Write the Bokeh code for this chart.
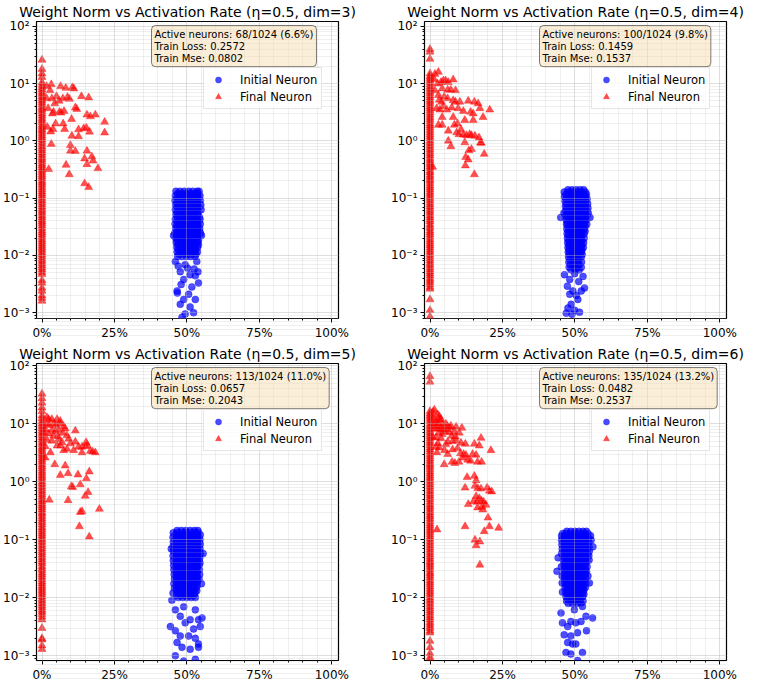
from bokeh.plotting import figure
from bokeh.layouts import gridplot
from bokeh.models import (Range1d, FixedTicker, CustomJSTickFormatter, Label,
                          Legend, LegendItem, ColumnDataSource)
from bokeh.embed import file_html
from bokeh.resources import INLINE

FONT = "DejaVu Sans"

# ---------------- chart values ----------------
DIMS = [3, 4, 5, 6]
ETA = 0.5
TOTAL_NEURONS = 1024
ACTIVE_NEURONS = [68, 100, 113, 135]
ACTIVE_PCT = [6.6, 9.8, 11.0, 13.2]
TRAIN_LOSS = [0.2572, 0.1459, 0.0657, 0.0482]
TRAIN_MSE = [0.0802, 0.1537, 0.2043, 0.2537]

X_TICKS = [0, 25, 50, 75, 100]
X_MINOR = [5, 10, 15, 20, 30, 35, 40, 45, 55, 60, 65, 70, 80, 85, 90, 95]
Y_TICKS = [1e-3, 1e-2, 1e-1, 1e0, 1e1, 1e2]
Y_MINOR = [m * 10.0 ** e for e in range(-4, 2) for m in range(2, 10)]

# activation rate (%) of the dead / near-dead final neurons (column at 0%)
FINAL_COLUMN_RATE = 0.0

# ---- dim=3 ----  initial neurons: (weight norm, [activation rates %])
INIT_ROWS_DIM3 = [
    (0.132, [46.2, 47.6, 49.1, 50.6, 52.0, 53.5, 54.2]),
    (0.121, [46.8, 48.3, 49.8, 51.3, 52.8, 54.0]),
    (0.110, [46.0, 47.5, 49.0, 50.5, 52.0, 53.5, 54.5]),
    (0.100, [46.6, 48.1, 49.6, 51.1, 52.6, 54.1]),
    (0.091, [45.9, 47.4, 48.9, 50.4, 51.9, 53.4, 54.6]),
    (0.083, [46.5, 48.0, 49.5, 51.0, 52.5, 54.0]),
    (0.076, [46.1, 47.6, 49.1, 50.6, 52.1, 53.6, 54.8]),
    (0.069, [46.7, 48.2, 49.7, 51.2, 52.7, 54.2]),
    (0.063, [46.0, 47.5, 49.0, 50.5, 52.0, 53.5, 54.9]),
    (0.057, [46.6, 48.1, 49.6, 51.1, 52.6, 54.0]),
    (0.052, [46.2, 47.7, 49.2, 50.7, 52.2, 53.7]),
    (0.047, [46.8, 48.3, 49.8, 51.3, 52.8, 54.3]),
    (0.043, [46.0, 47.5, 49.0, 50.5, 52.0, 53.5, 54.5]),
    (0.039, [46.6, 48.1, 49.6, 51.1, 52.6, 54.1]),
    (0.0355, [45.9, 47.4, 48.9, 50.4, 51.9, 53.4, 54.6]),
    (0.0323, [46.5, 48.0, 49.5, 51.0, 52.5, 54.0]),
    (0.0295, [46.1, 47.6, 49.1, 50.6, 52.1, 53.6, 54.4]),
    (0.0268, [46.7, 48.2, 49.7, 51.2, 52.7, 54.2]),
    (0.0245, [45.8, 47.3, 48.8, 50.3, 51.8, 53.3, 54.7]),
    (0.0222, [45.4, 46.5, 48.0, 49.5, 51.0, 52.5, 54.0, 55.0]),
    (0.0202, [46.1, 47.6, 49.1, 50.6, 52.1, 53.6]),
    (0.0184, [46.7, 48.2, 49.7, 51.2, 52.7, 54.0]),
    (0.0168, [46.3, 47.8, 49.3, 50.8, 52.3, 53.8]),
    (0.0153, [46.9, 48.4, 49.9, 51.4, 52.9, 54.0]),
    (0.0139, [46.5, 48.0, 49.5, 51.0, 52.5, 53.7]),
    (0.0127, [47.0, 48.5, 50.0, 51.5, 53.0]),
    (0.0115, [46.6, 48.1, 49.6, 51.1, 52.6, 53.6]),
    (0.0105, [47.2, 48.7, 50.2, 51.7, 53.1]),
    (0.0096, [46.8, 48.3, 49.8, 51.3, 52.8]),
]
INIT_TAIL_DIM3 = [
    (46.0, 0.0078), (49.4, 0.0069), (53.4, 0.0078), (47.7, 0.0052), (51.1, 0.0046),
    (48.9, 0.0038), (52.9, 0.0044), (48.0, 0.0031), (51.7, 0.0028), (54.0, 0.0033),
    (46.7, 0.0022), (50.6, 0.0021), (52.9, 0.0017), (48.9, 0.0017), (47.7, 0.0014),
    (51.1, 0.00126), (49.4, 0.00095), (48.3, 0.00083), (52.3, 0.0010), (46.6, 0.0024),
    (50.2, 0.0060), (52.5, 0.0058), (47.0, 0.0065), (53.8, 0.0052),
]
FINAL_COLUMN_DIM3 = [
    26, 18, 15, 13, 10.5, 9.5, 8.6, 7.9, 7.2, 6.6, 6.0, 5.5, 5.1, 4.7, 4.3, 3.9, 3.6,
    3.3, 3.0, 2.75, 2.5, 2.3, 2.1, 1.9, 1.75, 1.6, 1.5, 1.37, 1.25, 1.15, 1.05, 0.96,
    0.88, 0.8, 0.74, 0.68, 0.62, 0.57, 0.52, 0.48, 0.44, 0.4, 0.37, 0.34, 0.31, 0.285,
    0.26, 0.24, 0.22, 0.2, 0.185, 0.17, 0.155, 0.142, 0.13, 0.12, 0.11, 0.1, 0.092,
    0.085, 0.078, 0.071, 0.065, 0.06, 0.055, 0.05, 0.046, 0.042, 0.039, 0.036, 0.033,
    0.03, 0.027, 0.025, 0.023, 0.021, 0.019, 0.0175, 0.016, 0.0147, 0.0135, 0.0124,
    0.0113, 0.0104, 0.0095, 0.0087, 0.008, 0.0073, 0.0067, 0.0061, 0.0056, 0.0051,
    0.0047, 0.0037, 0.0033, 0.0027, 0.0024, 0.002, 0.0018, 0.0016,
]
FINAL_SPREAD_DIM3 = [
    (1.6, 9.0), (3.2, 9.7), (2.8, 7.6), (6.4, 9.0), (8.2, 8.4), (10.5, 8.6), (11.0, 8.2),
    (5.0, 6.0), (1.6, 5.5), (3.4, 5.5), (7.2, 5.5), (8.8, 5.8), (9.5, 5.4), (13.6, 6.0),
    (16.1, 5.7), (5.9, 5.0), (4.4, 4.5), (2.1, 3.7), (3.6, 3.0), (4.0, 3.2), (6.0, 3.2),
    (6.6, 3.1), (7.6, 3.3), (11.5, 3.8), (12.0, 3.6), (10.2, 2.4), (4.7, 2.0), (7.3, 2.0),
    (1.8, 1.75), (3.0, 1.45), (3.8, 1.6), (7.8, 1.6), (12.6, 1.58), (14.4, 1.65),
    (15.3, 1.69), (16.4, 1.44), (10.3, 1.22), (12.6, 1.2), (3.2, 0.88), (9.8, 0.84),
    (9.8, 0.67), (11.5, 0.66), (2.3, 0.32), (8.3, 0.38), (9.4, 0.26), (14.7, 0.18),
    (16.1, 0.155), (15.5, 2.86), (16.7, 2.67), (18.4, 2.86), (21.6, 2.14), (21.6, 1.39),
    (15.5, 0.67), (14.7, 0.49), (15.5, 0.39), (17.2, 0.53), (17.6, 0.45), (19.3, 0.33),
]

# ---- dim=4 ----
INIT_ROWS_DIM4 = [
    (0.140, [47.6, 49.0, 50.4, 51.8, 53.0]),
    (0.128, [46.3, 47.7, 49.2, 50.7, 52.2, 53.6]),
    (0.117, [46.9, 48.4, 49.9, 51.4, 52.9, 54.0]),
    (0.106, [46.4, 47.9, 49.4, 50.9, 52.4, 53.8]),
    (0.097, [47.0, 48.5, 50.0, 51.5, 53.0, 54.2]),
    (0.088, [46.6, 48.1, 49.6, 51.1, 52.6, 53.9]),
    (0.080, [47.1, 48.6, 50.1, 51.6, 53.1, 54.4]),
    (0.073, [46.7, 48.2, 49.7, 51.2, 52.7, 54.0]),
    (0.067, [47.2, 48.7, 50.2, 51.7, 53.2, 54.5]),
    (0.061, [46.8, 48.3, 49.8, 51.3, 52.8, 54.1]),
    (0.055, [46.2, 47.4, 48.9, 50.4, 51.9, 53.4, 54.6]),
    (0.050, [46.9, 48.4, 49.9, 51.4, 52.9, 54.2]),
    (0.046, [45.1, 47.5, 49.0, 50.5, 52.0, 53.5, 55.2]),
    (0.042, [47.0, 48.5, 50.0, 51.5, 53.0, 54.0]),
    (0.038, [47.4, 48.9, 50.4, 51.9, 53.4]),
    (0.035, [47.1, 48.6, 50.1, 51.6, 53.1, 54.1]),
    (0.032, [47.6, 49.1, 50.6, 52.1, 53.5]),
    (0.029, [47.2, 48.7, 50.2, 51.7, 53.2]),
    (0.0265, [47.7, 49.2, 50.7, 52.2, 53.5]),
    (0.024, [47.3, 48.8, 50.3, 51.8, 53.2]),
    (0.022, [47.8, 49.3, 50.8, 52.3]),
    (0.020, [47.4, 48.9, 50.4, 51.9, 53.2]),
    (0.0182, [47.9, 49.4, 50.9, 52.4]),
    (0.0166, [47.5, 49.0, 50.5, 52.0, 53.0]),
    (0.0151, [47.9, 49.4, 50.9, 52.4]),
    (0.0137, [47.6, 49.1, 50.6, 52.1, 52.9]),
    (0.0125, [48.0, 49.5, 51.0, 52.4]),
    (0.0114, [47.7, 49.2, 50.7, 52.2]),
    (0.0104, [48.1, 49.6, 51.1, 52.5]),
    (0.0094, [47.8, 49.3, 50.8, 52.2]),
    (0.0085, [48.3, 49.8, 51.3]),
    (0.0077, [47.9, 49.4, 50.9, 52.3]),
    (0.0069, [48.4, 49.9, 51.4]),
    (0.0062, [48.0, 49.5, 51.0, 52.2]),
    (0.0056, [48.6, 50.1, 51.5]),
]
INIT_TAIL_DIM4 = [
    (47.4, 0.0029), (49.3, 0.0024), (48.2, 0.0021), (50.5, 0.0020), (52.2, 0.0024),
    (53.3, 0.0027), (48.7, 0.0014), (51.0, 0.0017), (47.6, 0.0012), (49.9, 0.0011),
    (51.6, 0.00102), (47.0, 0.00098), (49.0, 0.00094), (48.2, 0.0038), (51.3, 0.0035),
    (52.8, 0.0043), (46.4, 0.0046), (49.9, 0.0048),
]
FINAL_COLUMN_DIM4 = [
    40, 36, 27, 15, 13.5, 12.5, 11.5, 10.5, 9.6, 8.8, 8.1, 7.4, 6.8, 6.2, 5.7, 5.2, 4.8,
    4.4, 4.0, 3.7, 3.4, 3.1, 2.85, 2.6, 2.4, 2.2, 2.0, 1.85, 1.7, 1.55, 1.42, 1.3, 1.2,
    1.1, 1.0, 0.92, 0.84, 0.77, 0.71, 0.65, 0.6, 0.55, 0.5, 0.46, 0.42, 0.39, 0.36, 0.33,
    0.3, 0.28, 0.255, 0.235, 0.215, 0.2, 0.182, 0.165, 0.152, 0.14, 0.128, 0.118, 0.108,
    0.1, 0.092, 0.084, 0.077, 0.071, 0.065, 0.06, 0.055, 0.05, 0.046, 0.042, 0.039,
    0.035, 0.032, 0.03, 0.027, 0.025, 0.023, 0.021, 0.019, 0.0175, 0.016, 0.0148,
    0.0136, 0.0125, 0.0115, 0.0105, 0.0096, 0.0088, 0.0081, 0.0074, 0.0068, 0.0062,
    0.0057, 0.0052, 0.0048, 0.0044, 0.004, 0.0037, 0.0034, 0.0031, 0.0028, 0.0026,
    0.0017, 0.0011, 0.00085,
]
FINAL_SPREAD_DIM4 = [
    (1.7, 14.7), (2.9, 16.0), (1.4, 12.0), (2.6, 10.0), (3.8, 10.6), (4.6, 11.3),
    (5.4, 11.3), (6.3, 10.6), (8.0, 11.8), (4.2, 8.2), (6.1, 7.8), (7.2, 7.8), (8.8, 7.6),
    (1.7, 7.6), (2.9, 6.3), (4.9, 5.9), (6.1, 5.5), (3.2, 5.2), (4.0, 4.8), (8.0, 5.1),
    (8.8, 4.8), (10.3, 4.8), (13.2, 5.0), (15.3, 4.8), (16.6, 4.5), (2.3, 3.7), (4.6, 4.0),
    (7.5, 3.8), (3.4, 3.5), (5.8, 3.5), (9.7, 3.7), (11.5, 3.3), (14.0, 3.2), (14.9, 3.0),
    (17.2, 3.7), (20.6, 3.5), (4.2, 2.6), (8.0, 2.6), (12.0, 2.3), (14.9, 2.3), (18.3, 2.6),
    (2.9, 1.9), (4.2, 1.9), (6.3, 1.5), (8.4, 1.9), (9.5, 2.0), (10.7, 1.58), (9.2, 1.4),
    (10.0, 1.3), (11.5, 1.28), (12.6, 1.25), (13.7, 1.3), (14.3, 1.25), (15.5, 1.22),
    (16.9, 1.14), (6.3, 1.0), (7.2, 0.8), (12.0, 0.94), (14.3, 0.72), (13.4, 0.68),
    (17.4, 0.93), (17.7, 0.92), (12.3, 0.52), (13.2, 0.47), (12.2, 0.37), (18.7, 0.59),
    (15.3, 0.26), (0.9, 0.35),
]

# ---- dim=5 ----
INIT_ROWS_DIM5 = [
    (0.145, [46.6, 48.1, 49.6, 51.1, 52.6, 53.8]),
    (0.133, [45.3, 46.6, 48.1, 49.6, 51.1, 52.6, 54.0]),
    (0.122, [45.9, 47.4, 48.9, 50.4, 51.9, 53.4, 54.6]),
    (0.111, [45.2, 46.7, 48.2, 49.7, 51.2, 52.7, 54.1]),
    (0.101, [45.8, 47.3, 48.8, 50.3, 51.8, 53.3, 54.5]),
    (0.092, [45.3, 46.8, 48.3, 49.8, 51.3, 52.8, 54.2]),
    (0.084, [45.9, 47.4, 48.9, 50.4, 51.9, 53.4, 54.6]),
    (0.077, [45.2, 46.7, 48.2, 49.7, 51.2, 52.7, 54.1]),
    (0.070, [44.6, 45.8, 47.3, 48.8, 50.3, 51.8, 53.3, 54.5]),
    (0.064, [45.3, 46.8, 48.3, 49.8, 51.3, 52.8, 54.2]),
    (0.058, [45.9, 47.4, 48.9, 50.4, 51.9, 53.4, 54.6, 55.6]),
    (0.053, [45.2, 46.7, 48.2, 49.7, 51.2, 52.7, 54.1]),
    (0.048, [45.8, 47.3, 48.8, 50.3, 51.8, 53.3, 54.4]),
    (0.044, [45.3, 46.8, 48.3, 49.8, 51.3, 52.8, 54.1]),
    (0.040, [45.9, 47.4, 48.9, 50.4, 51.9, 53.4, 54.5]),
    (0.0365, [45.4, 46.9, 48.4, 49.9, 51.4, 52.9, 54.2]),
    (0.0333, [46.0, 47.5, 49.0, 50.5, 52.0, 53.5]),
    (0.0304, [45.5, 47.0, 48.5, 50.0, 51.5, 53.0, 54.3]),
    (0.0277, [46.1, 47.6, 49.1, 50.6, 52.1, 53.6]),
    (0.0253, [45.6, 47.1, 48.6, 50.1, 51.6, 53.1, 54.4]),
    (0.0231, [46.2, 47.7, 49.2, 50.7, 52.2, 53.6]),
    (0.0211, [45.7, 47.2, 48.7, 50.2, 51.7, 53.2, 54.2]),
    (0.0192, [46.3, 47.8, 49.3, 50.8, 52.3, 53.7]),
    (0.0175, [45.5, 47.0, 48.5, 50.0, 51.5, 53.0, 55.0]),
    (0.0160, [46.2, 47.7, 49.2, 50.7, 52.2, 53.5]),
    (0.0146, [45.7, 47.2, 48.7, 50.2, 51.7, 53.1]),
    (0.0133, [46.3, 47.8, 49.3, 50.8, 52.3, 53.4]),
    (0.0121, [45.2, 46.9, 48.4, 49.9, 51.4, 52.8]),
    (0.0110, [46.5, 48.0, 49.5, 51.0, 52.4]),
    (0.0101, [47.0, 48.5, 50.0, 51.5, 52.9]),
]
INIT_TAIL_DIM5 = [
    (44.8, 0.0091), (46.0, 0.0062), (47.7, 0.0048), (51.1, 0.0042), (54.0, 0.0042),
    (54.6, 0.0032), (46.0, 0.0027), (47.7, 0.0022), (50.6, 0.0022), (52.9, 0.0020),
    (54.0, 0.0016), (46.6, 0.0017), (48.3, 0.0014), (51.1, 0.0013), (46.0, 0.0010),
    (48.9, 0.00081), (52.9, 0.00087), (54.0, 0.0014), (44.3, 0.0032), (55.2, 0.0045),
    (49.4, 0.0037), (52.3, 0.0029), (48.9, 0.0070), (52.9, 0.0062),
]
FINAL_COLUMN_DIM5 = [
    33, 27.6, 23, 19, 16.5, 13.9, 12.4, 11, 10.1, 9.2, 8.4, 7.6, 7.0, 6.4, 5.8, 5.3, 4.8,
    4.4, 4.0, 3.7, 3.4, 3.1, 2.85, 2.6, 2.4, 2.2, 2.0, 1.85, 1.7, 1.55, 1.42, 1.3, 1.2,
    1.1, 1.0, 0.92, 0.84, 0.77, 0.71, 0.65, 0.6, 0.55, 0.5, 0.46, 0.42, 0.39, 0.36, 0.33,
    0.3, 0.28, 0.255, 0.235, 0.215, 0.2, 0.182, 0.165, 0.152, 0.14, 0.128, 0.118, 0.108,
    0.1, 0.092, 0.084, 0.077, 0.071, 0.065, 0.06, 0.055, 0.05, 0.046, 0.042, 0.039,
    0.035, 0.032, 0.03, 0.027, 0.025, 0.023, 0.021, 0.019, 0.0175, 0.016, 0.0148,
    0.0136, 0.0125, 0.0115, 0.0105, 0.0096, 0.0088, 0.0081, 0.0074, 0.0068, 0.0062,
    0.0057, 0.0052, 0.0047, 0.0042, 0.003, 0.002, 0.0019, 0.0015, 0.0013,
]
FINAL_SPREAD_DIM5 = [
    (1.7, 13.0), (2.3, 12.0), (3.4, 12.0), (5.2, 12.0), (6.3, 11.2), (1.7, 9.8), (2.5, 9.5),
    (4.0, 10.0), (4.8, 9.6), (6.3, 10.0), (7.5, 8.9), (1.1, 8.0), (3.4, 7.8), (4.6, 7.5),
    (5.7, 7.8), (8.0, 8.3), (7.2, 7.0), (2.3, 6.8), (0.6, 7.2), (4.0, 6.3), (5.5, 6.1),
    (8.6, 6.3), (11.5, 7.6), (9.2, 5.5), (1.7, 5.3), (3.4, 5.1), (5.7, 5.4), (6.9, 4.8),
    (9.8, 4.6), (11.5, 4.9), (15.2, 4.8), (12.6, 4.0), (13.8, 4.0), (15.0, 4.1), (15.6, 4.3),
    (16.7, 3.4), (17.5, 3.3), (18.4, 3.2), (13.8, 3.2), (10.9, 3.5), (8.6, 3.7), (5.2, 4.2),
    (6.3, 4.2), (7.5, 3.5), (2.9, 3.2), (1.1, 4.1), (1.1, 2.6), (4.4, 2.0), (8.0, 1.9),
    (9.0, 1.4), (12.4, 1.33), (16.3, 1.5), (6.3, 1.3), (15.3, 1.14), (13.2, 0.9),
    (10.1, 0.83), (10.6, 0.81), (15.9, 0.66), (14.9, 0.57), (2.5, 0.49), (9.0, 0.48),
    (13.2, 0.30), (13.8, 0.31), (19.8, 0.34), (12.9, 0.17), (16.3, 0.113),
]

# ---- dim=6 ----
INIT_ROWS_DIM6 = [
    (0.140, [47.2, 48.6, 50.0, 51.4, 52.8, 54.0]),
    (0.129, [45.8, 47.0, 48.5, 50.0, 51.5, 53.0, 54.5]),
    (0.118, [45.4, 46.4, 47.9, 49.4, 50.9, 52.4, 53.9, 55.4]),
    (0.108, [45.9, 47.3, 48.8, 50.3, 51.8, 53.3, 54.6]),
    (0.099, [45.4, 46.6, 48.1, 49.6, 51.1, 52.6, 54.1, 55.6]),
    (0.091, [46.0, 47.4, 48.9, 50.4, 51.9, 53.4, 54.8]),
    (0.083, [45.5, 46.7, 48.2, 49.7, 51.2, 52.7, 54.2]),
    (0.076, [46.1, 47.5, 49.0, 50.5, 52.0, 53.5, 54.9, 56.2]),
    (0.070, [45.6, 46.8, 48.3, 49.8, 51.3, 52.8, 54.3]),
    (0.064, [46.2, 47.6, 49.1, 50.6, 52.1, 53.6, 55.0]),
    (0.058, [45.4, 46.9, 48.4, 49.9, 51.4, 52.9, 54.4]),
    (0.053, [45.9, 47.4, 48.9, 50.4, 51.9, 53.4, 54.8]),
    (0.049, [44.2, 46.5, 48.0, 49.5, 51.0, 52.5, 54.0]),
    (0.045, [46.0, 47.5, 49.0, 50.5, 52.0, 53.5, 54.9]),
    (0.041, [46.6, 48.1, 49.6, 51.1, 52.6, 54.1]),
    (0.0375, [46.1, 47.6, 49.1, 50.6, 52.1, 53.6]),
    (0.0343, [45.3, 46.7, 48.2, 49.7, 51.2, 52.7, 54.2]),
    (0.0313, [46.2, 47.7, 49.2, 50.7, 52.2, 53.7]),
    (0.0286, [43.8, 46.8, 48.3, 49.8, 51.3, 52.8, 54.0]),
    (0.0261, [46.3, 47.8, 49.3, 50.8, 52.3, 53.8]),
    (0.0238, [45.6, 46.9, 48.4, 49.9, 51.4, 52.9, 54.5]),
    (0.0217, [46.4, 47.9, 49.4, 50.9, 52.4, 53.8]),
    (0.0198, [47.0, 48.5, 50.0, 51.5, 53.0]),
    (0.0181, [45.6, 46.5, 48.0, 49.5, 51.0, 52.5, 53.9, 55.0]),
    (0.0165, [47.1, 48.6, 50.1, 51.6, 53.0]),
    (0.0151, [46.6, 48.1, 49.6, 51.1, 52.6, 53.6]),
    (0.0138, [47.2, 48.7, 50.2, 51.7, 53.1]),
    (0.0126, [45.7, 46.8, 48.3, 49.8, 51.3, 52.8]),
    (0.0115, [47.3, 48.8, 50.3, 51.8, 53.1]),
    (0.0105, [46.9, 48.4, 49.9, 51.4, 52.7]),
    (0.0096, [47.5, 49.0, 50.5, 52.0]),
    (0.0088, [47.1, 48.6, 50.1, 51.6, 52.8]),
    (0.0080, [47.7, 49.2, 50.7, 52.1]),
]
INIT_TAIL_DIM6 = [
    (45.7, 0.0037), (47.5, 0.0032), (48.6, 0.0039), (50.3, 0.0037), (52.1, 0.0039),
    (53.8, 0.0048), (46.3, 0.0023), (48.6, 0.0022), (50.9, 0.0025), (47.5, 0.0017),
    (49.2, 0.0016), (46.9, 0.00114), (48.6, 0.00107), (50.3, 0.0016), (50.9, 0.00083),
    (52.6, 0.00114), (54.0, 0.0027), (56.1, 0.0045), (45.2, 0.0055), (49.8, 0.0062),
    (52.6, 0.0071),
]
FINAL_COLUMN_DIM6 = [
    66, 53, 16.5, 15, 14, 13, 12, 11, 10, 9.2, 8.5, 7.8, 7.2, 6.6, 6.1, 5.6, 5.1, 4.7,
    4.3, 3.9, 3.6, 3.3, 3.0, 2.75, 2.5, 2.3, 2.1, 1.95, 1.8, 1.65, 1.5, 1.38, 1.27, 1.17,
    1.07, 0.98, 0.9, 0.83, 0.76, 0.7, 0.64, 0.59, 0.54, 0.5, 0.45, 0.41, 0.38, 0.35,
    0.32, 0.295, 0.27, 0.25, 0.23, 0.21, 0.19, 0.175, 0.16, 0.147, 0.135, 0.124, 0.113,
    0.104, 0.095, 0.087, 0.08, 0.073, 0.067, 0.061, 0.056, 0.051, 0.047, 0.043, 0.04,
    0.037, 0.034, 0.031, 0.028, 0.026, 0.024, 0.022, 0.02, 0.0185, 0.017, 0.0155,
    0.0142, 0.013, 0.012, 0.011, 0.01, 0.0092, 0.0085, 0.0078, 0.0071, 0.0065, 0.006,
    0.0055, 0.005, 0.0046, 0.0042, 0.0038, 0.0035, 0.0032, 0.003, 0.0027, 0.0025,
    0.0018, 0.0014, 0.0011, 0.00095, 0.00085,
]
FINAL_SPREAD_DIM6 = [
    (1.5, 17.5), (1.0, 16.0), (2.6, 14.5), (3.2, 13.5), (3.8, 12.0), (3.2, 11.8), (1.5, 10.0),
    (2.9, 10.2), (4.4, 9.8), (5.5, 10.0), (6.1, 9.0), (7.2, 9.2), (9.0, 8.9), (1.5, 8.3),
    (2.6, 8.2), (4.0, 8.3), (5.2, 7.3), (6.7, 7.1), (8.4, 7.4), (10.1, 7.0), (11.0, 8.5),
    (0.9, 5.9), (2.1, 5.8), (3.8, 5.6), (6.1, 4.9), (7.8, 5.0), (9.0, 5.2), (10.7, 4.7),
    (12.2, 4.5), (15.3, 4.5), (17.0, 4.2), (17.6, 5.7), (2.1, 4.0), (3.2, 3.9), (5.0, 3.5),
    (6.1, 3.0), (7.8, 3.6), (2.4, 3.2), (4.9, 2.0), (7.6, 2.2), (8.6, 2.1), (10.0, 2.2),
    (11.6, 3.0), (12.4, 2.9), (13.0, 2.4), (14.0, 2.3), (14.7, 3.0), (15.9, 2.9),
    (16.4, 2.2), (17.8, 2.2), (21.0, 3.5), (12.8, 1.2), (15.3, 1.26), (15.9, 1.06),
    (12.1, 0.79), (13.2, 0.41), (15.5, 0.85), (16.5, 0.77), (17.6, 0.76), (15.9, 0.56),
    (17.0, 0.52), (15.0, 0.46), (16.2, 0.45), (17.8, 0.47), (18.5, 0.45), (19.3, 0.40),
    (19.7, 0.79), (20.5, 0.70), (21.3, 0.68), (16.4, 0.36), (18.0, 0.37), (18.2, 0.33),
    (20.0, 0.24), (20.5, 0.17), (18.7, 0.14), (23.7, 0.16), (12.1, 0.17), (15.5, 0.10),
    (15.9, 0.08), (17.2, 0.093), (2.4, 0.15), (17.2, 0.037), (1.2, 12.5), (2.0, 11.0),
    (2.3, 9.0), (3.5, 8.8), (4.6, 7.8), (5.8, 8.0), (6.9, 8.6), (7.5, 6.2), (8.8, 6.0),
    (3.0, 7.0), (4.2, 6.6), (2.7, 4.6), (5.5, 4.4), (9.5, 3.8), (10.5, 3.1), (11.3, 2.6),
]

INIT_ROWS = [INIT_ROWS_DIM3, INIT_ROWS_DIM4, INIT_ROWS_DIM5, INIT_ROWS_DIM6]
INIT_TAILS = [INIT_TAIL_DIM3, INIT_TAIL_DIM4, INIT_TAIL_DIM5, INIT_TAIL_DIM6]
FINAL_COLUMNS = [FINAL_COLUMN_DIM3, FINAL_COLUMN_DIM4, FINAL_COLUMN_DIM5, FINAL_COLUMN_DIM6]
FINAL_SPREADS = [FINAL_SPREAD_DIM3, FINAL_SPREAD_DIM4, FINAL_SPREAD_DIM5, FINAL_SPREAD_DIM6]

# ---------------- layout / style ----------------
FRAME_W, FRAME_H = 302, 297
BORDERS = [(33, 42), (44, 26), (33, 42), (44, 26)]
Y_LIMITS = [(7.9e-4, 122), (7.9e-4, 122), (8.3e-4, 110), (8.3e-4, 110)]
X_LIMITS = (-1.9, 102.3)

SUP_JS = """
const sup = {"-": "\u207b", "0": "\u2070", "1": "\u00b9", "2": "\u00b2", "3": "\u00b3",
             "4": "\u2074", "5": "\u2075", "6": "\u2076", "7": "\u2077", "8": "\u2078", "9": "\u2079"};
const e = Math.round(Math.log10(tick));
return "10" + String(e).split("").map(c => sup[c]).join("");
"""


def expand_rows(rows):
    xs, ys = [], []
    for yv, row in rows:
        for xv in row:
            xs.append(xv)
            ys.append(yv)
    return xs, ys


def make_panel(i):
    left, right = BORDERS[i]
    ylo, yhi = Y_LIMITS[i]
    p = figure(frame_width=FRAME_W, frame_height=FRAME_H,
               x_range=Range1d(*X_LIMITS), y_range=Range1d(ylo, yhi),
               y_axis_type="log", output_backend="svg", toolbar_location=None,
               min_border_left=left, min_border_right=right,
               min_border_top=0, min_border_bottom=0,
               title=f"Weight Norm vs Activation Rate (\u03b7={ETA}, dim={DIMS[i]})")
    p.title.text_font = FONT
    p.title.text_font_size = "14px"
    p.title.text_font_style = "normal"
    p.title.text_color = "black"
    p.title.align = "center"
    p.title.standoff = 3
    p.outline_line_color = "black"
    p.outline_line_width = 1.2

    xt = FixedTicker(ticks=X_TICKS, minor_ticks=X_MINOR)
    yt = FixedTicker(ticks=Y_TICKS, minor_ticks=Y_MINOR)
    p.xaxis.ticker = xt
    p.yaxis.ticker = yt
    p.xgrid.ticker = xt
    p.ygrid.ticker = yt
    p.xaxis.formatter = CustomJSTickFormatter(code="return tick.toFixed(0) + '%';")
    p.yaxis.formatter = CustomJSTickFormatter(code=SUP_JS)
    for ax in (p.xaxis, p.yaxis):
        ax.axis_line_color = None
        ax.major_tick_in = 0
        ax.major_tick_out = 4
        ax.minor_tick_in = 0
        ax.minor_tick_out = 2
        ax.major_tick_line_color = "black"
        ax.minor_tick_line_color = "black"
        ax.major_label_text_font = FONT
        ax.major_label_text_font_size = "12px"
        ax.major_label_text_color = "black"
        ax.major_label_standoff = 3
    for g in (p.xgrid, p.ygrid):
        g.grid_line_color = "#b0b0b0"
        g.grid_line_alpha = 0.42
        g.minor_grid_line_color = "#b0b0b0"
        g.minor_grid_line_alpha = 0.2
        g.level = "annotation"

    ix, iy = expand_rows(INIT_ROWS[i])
    ix += [t[0] for t in INIT_TAILS[i]]
    iy += [t[1] for t in INIT_TAILS[i]]
    col = FINAL_COLUMNS[i]
    fx = [FINAL_COLUMN_RATE] * len(col) + [s[0] for s in FINAL_SPREADS[i]]
    fy = list(col) + [s[1] for s in FINAL_SPREADS[i]]

    r_init = p.scatter("x", "y", source=ColumnDataSource(dict(x=ix, y=iy)),
                       marker="circle", size=7, fill_color="blue", fill_alpha=0.7,
                       line_color="blue", line_alpha=0.7, line_width=0.5)
    r_final = p.scatter("x", "y", source=ColumnDataSource(dict(x=fx, y=fy)),
                        marker="triangle", size=8, fill_color="red", fill_alpha=0.7,
                        line_color="red", line_alpha=0.7, line_width=0.5)

    stats = (f"Active neurons: {ACTIVE_NEURONS[i]}/{TOTAL_NEURONS} ({ACTIVE_PCT[i]:.1f}%)\n"
             f"Train Loss: {TRAIN_LOSS[i]:.4f}\n"
             f"Train Mse: {TRAIN_MSE[i]:.4f}")
    p.add_layout(Label(x=115, y=FRAME_H - 4, x_units="screen", y_units="screen",
                       text=stats, text_font=FONT, text_font_size="10px",
                       text_align="left", text_baseline="top", text_line_height=1.1,
                       text_color="black",
                       background_fill_color="wheat", background_fill_alpha=0.5,
                       border_line_color="black", border_line_alpha=0.5,
                       padding=3, border_radius=4))

    legend = Legend(items=[LegendItem(label="Initial Neuron", renderers=[r_init]),
                           LegendItem(label="Final Neuron", renderers=[r_final])],
                    location=(167, FRAME_H - 88),
                    label_text_font=FONT, label_text_font_size="11.5px",
                    label_text_color="black",
                    glyph_width=20, glyph_height=15, label_height=15,
                    spacing=2, padding=4, margin=0, label_standoff=12,
                    border_line_color="#cccccc", border_line_width=1,
                    background_fill_color="white", background_fill_alpha=0.8)
    p.add_layout(legend)
    return p


panels = [make_panel(i) for i in range(4)]
grid = gridplot([[panels[0], panels[1]], [panels[2], panels[3]]], toolbar_location=None)
open("out.html", "w").write(file_html(grid, INLINE))
